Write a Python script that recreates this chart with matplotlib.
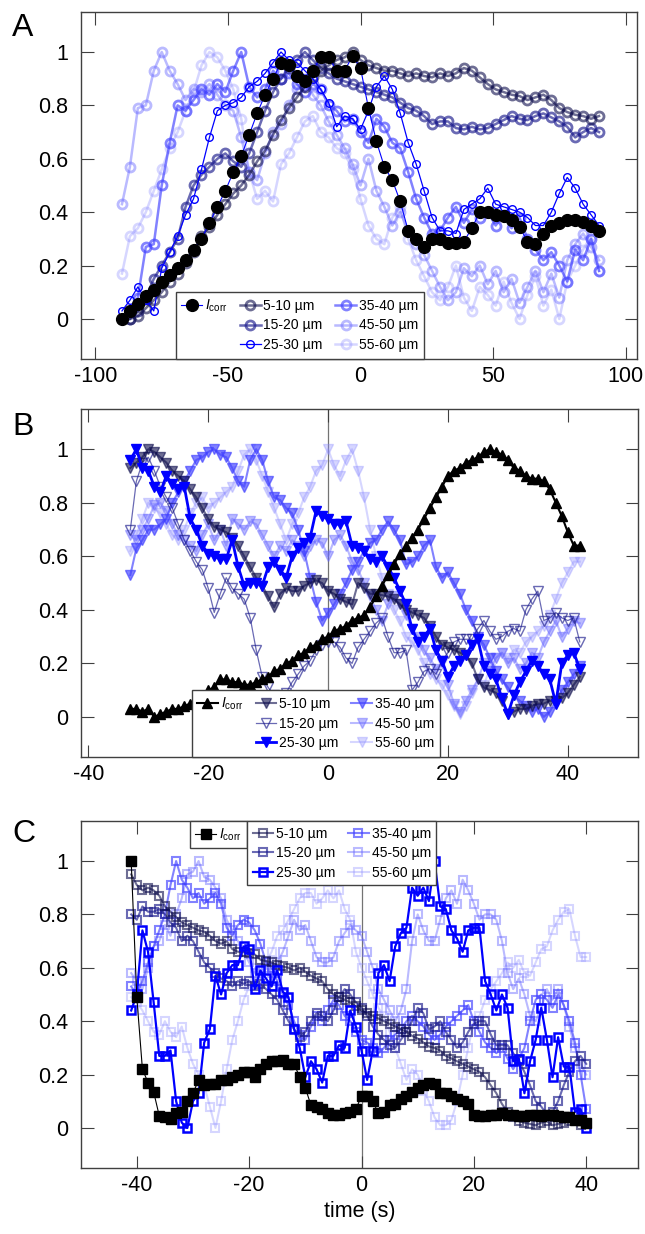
import numpy as np
import matplotlib
matplotlib.use("Agg")
import matplotlib.pyplot as plt
from matplotlib.lines import Line2D

plt.rcParams['font.family'] = ['Liberation Sans', 'DejaVu Sans']
plt.rcParams['mathtext.fontset'] = 'custom'
plt.rcParams['mathtext.rm'] = 'Liberation Sans'
plt.rcParams['mathtext.it'] = 'Liberation Sans:italic'
plt.rcParams['axes.unicode_minus'] = False

nan = np.nan

# ==========================
# Panel A data (time step 3 s)
# ==========================
a_time = np.arange(-90, 91, 3)
a_icorr = [0.00, 0.03, 0.055, 0.085, 0.11, 0.14, 0.165, 0.19, 0.22, 0.26,
           0.30, 0.36, 0.42, 0.48, 0.55, 0.61, 0.69, 0.77, 0.84, 0.90,
           0.96, 0.95, 0.91, 0.89, 0.93, 0.98, 0.98, 0.93, 0.93, 0.985,
           0.94, 0.79, 0.665, 0.57, 0.52, 0.44, 0.33, 0.30, 0.27, 0.30,
           0.30, 0.285, 0.285, 0.29, 0.34, 0.40, 0.40, 0.39, 0.385, 0.37,
           0.345, 0.29, 0.28, 0.32, 0.35, 0.36, 0.37, 0.37, 0.365, 0.35,
           0.33]
a_5_10 = [nan, 0.0, 0.01, 0.04, 0.07, 0.10, 0.14, 0.17, 0.21, 0.25,
          0.31, 0.345, 0.39, 0.43, 0.47, 0.50, 0.54, 0.59, 0.63, 0.69,
          0.745, 0.79, 0.83, 0.87, 0.905, 0.93, 0.95, 0.97, 0.98, 1.0,
          0.97, 0.95, 0.94, 0.93, 0.93, 0.92, 0.91, 0.92, 0.91, 0.905,
          0.92, 0.91, 0.92, 0.94, 0.93, 0.905, 0.88, 0.86, 0.85, 0.84,
          0.835, 0.82, 0.83, 0.84, 0.82, 0.79, 0.775, 0.765, 0.76, 0.75,
          0.76]
a_15_20 = [nan, 0.0, 0.03, 0.08, 0.15, 0.20, 0.25, 0.30, 0.42, 0.50,
           0.54, 0.57, 0.60, 0.62, 0.59, 0.57, 0.62, 0.70, 0.78, 0.85,
           0.90, 0.94, 0.97, 1.0, 0.97, 0.94, 0.92, 0.90, 0.89, 0.88,
           0.87, 0.86, 0.85, 0.84, 0.83, 0.81, 0.79, 0.78, 0.76, 0.73,
           0.74, 0.74, 0.715, 0.71, 0.72, 0.71, 0.715, 0.73, 0.745, 0.76,
           0.75, 0.745, 0.76, 0.77, 0.755, 0.74, 0.72, 0.68, 0.70, 0.715,
           0.70]
a_25_30 = [0.03, 0.07, 0.12, 0.07, 0.03, 0.19, 0.25, 0.31, 0.39, 0.45,
           0.56, 0.68, 0.78, 0.80, 0.81, 0.83, 0.87, 0.89, 0.92, 0.96,
           1.0, 0.97, 0.96, 0.93, 0.90, 0.86, 0.81, 0.72, 0.76, 0.75,
           0.71, 0.78, 0.87, 0.91, 0.86, 0.77, 0.66, 0.58, 0.48, 0.38,
           0.33, 0.33, 0.32, 0.41, 0.43, 0.45, 0.49, 0.43, 0.42, 0.41,
           0.40, 0.38, 0.35, 0.35, 0.40, 0.47, 0.53, 0.49, 0.43, 0.39,
           0.35]
a_35_40 = [nan, 0.03, 0.08, 0.27, 0.28, 0.50, 0.66, 0.80, 0.78, 0.82,
           0.86, 0.84, 0.88, 0.85, 0.93, 1.0, 0.87, 0.83, 0.86, 0.93,
           0.90, 0.92, 0.88, 0.85, 0.88, 0.86, 0.80, 0.78, 0.74, 0.75,
           0.70, 0.66, 0.75, 0.72, 0.66, 0.64, 0.55, 0.45, 0.38, 0.32,
           0.33, 0.38, 0.42, 0.36, 0.41, 0.38, 0.40, 0.35, 0.39, 0.34,
           0.38, 0.30, 0.26, 0.22, 0.25, 0.20, 0.14, 0.26, 0.22, 0.30,
           0.18]
a_45_50 = [0.43, 0.57, 0.79, 0.80, 0.93, 1.0, 0.93, 0.88, 0.82, 0.86,
           0.85, 0.88, 0.84, 0.80, 0.78, 0.68, 0.55, 0.52, 0.62, 0.70,
           0.73, 0.80, 0.86, 0.90, 0.84, 0.80, 0.74, 0.69, 0.64, 0.58,
           0.50, 0.60, 0.48, 0.42, 0.35, 0.40, 0.33, 0.28, 0.24, 0.18,
           0.12, 0.07, 0.10, 0.19, 0.16, 0.20, 0.13, 0.18, 0.10, 0.15,
           0.06, 0.12, 0.18, 0.10, 0.17, 0.08, 0.22, 0.28, 0.32, 0.27,
           0.22]
a_55_60 = [0.17, 0.31, 0.34, 0.40, 0.48, 0.56, 0.64, 0.70, 0.78, 0.85,
           0.95, 1.0, 0.98, 0.93, 0.86, 0.75, 0.55, 0.45, 0.48, 0.44,
           0.58, 0.62, 0.68, 0.74, 0.76, 0.70, 0.68, 0.64, 0.62, 0.56,
           0.45, 0.35, 0.30, 0.28, 0.38, 0.42, 0.30, 0.22, 0.16, 0.10,
           0.07, 0.12, 0.20, 0.08, 0.03, 0.12, 0.09, 0.05, 0.14, 0.06,
           0.0, 0.09, 0.16, 0.05, 0.11, 0.0, 0.14, 0.20, 0.26, 0.31,
           0.18]

# ==========================
# Panel B data (time step 1 s)
# ==========================
b_time = np.arange(-33, 43, 1)
b_icorr = [0.03, 0.03, 0.02, 0.03, 0.0, 0.01, 0.02, 0.03, 0.03, 0.04,
           0.05, 0.06, 0.08, 0.10, 0.11, 0.14, 0.14, 0.13, 0.13, 0.12,
           0.12, 0.13, 0.14, 0.15, 0.17, 0.18, 0.20, 0.21, 0.23, 0.24,
           0.26, 0.27, 0.29, 0.30, 0.32, 0.33, 0.34, 0.36, 0.37, 0.38,
           0.41, 0.45, 0.49, 0.53, 0.57, 0.61, 0.64, 0.67, 0.70, 0.74,
           0.78, 0.82, 0.86, 0.90, 0.92, 0.93, 0.95, 0.96, 0.97, 0.99,
           1.0, 0.99, 0.98, 0.96, 0.93, 0.92, 0.90, 0.89, 0.89, 0.88,
           0.85, 0.80, 0.75, 0.69, 0.64, 0.64]
b_5_10 = [0.93, 0.95, 0.97, 1.0, 0.99, 0.97, 0.95, 0.92, 0.90, 0.88,
          0.85, 0.82, 0.78, 0.74, 0.71, 0.70, 0.69, 0.67, 0.64, 0.60,
          0.56, 0.52, 0.49, 0.45, 0.41, 0.46, 0.48, 0.47, 0.47, 0.49,
          0.50, 0.51, 0.50, 0.47, 0.46, 0.44, 0.43, 0.42, 0.50, 0.48,
          0.46, 0.46, 0.455, 0.45, 0.44, 0.42, 0.40, 0.39, 0.38, 0.37,
          0.34, 0.30, 0.27, 0.26, 0.25, 0.24, 0.23, 0.20, 0.14, 0.11,
          0.10, 0.09, 0.06, 0.01, 0.02, 0.03, 0.03, 0.04, 0.05, 0.05,
          0.06, 0.06, 0.07, 0.09, 0.12, 0.15]
b_15_20 = [0.70, 0.88, 0.95, 0.97, 0.92, 0.86, 0.82, 0.78, 0.72, 0.66,
           0.62, 0.58, 0.55, 0.48, 0.39, 0.46, 0.52, 0.48, 0.46, 0.44,
           0.37, 0.25, 0.15, 0.11, 0.08, 0.07, 0.09, 0.13, 0.16, 0.19,
           0.21, 0.25, 0.27, 0.28, 0.28, 0.26, 0.22, 0.20, 0.26, 0.29,
           0.32, 0.35, 0.37, 0.30, 0.24, 0.24, 0.25, 0.10, 0.13, 0.17,
           0.18, 0.16, 0.21, 0.24, 0.28, 0.29, 0.29, 0.29, 0.33, 0.36,
           0.32, 0.29, 0.30, 0.32, 0.33, 0.32, 0.40, 0.44, 0.47, 0.36,
           0.37, 0.39, 0.37, 0.36, 0.37, 0.28]
b_25_30 = [0.96, 1.0, 0.93, 0.92, 0.86, 0.84, 0.90, 0.87, 0.85, 0.86,
           0.74, 0.70, 0.64, 0.61, 0.60, 0.59, 0.59, 0.66, 0.56, 0.49,
           0.50, 0.50, 0.49, 0.56, 0.58, 0.55, 0.52, 0.60, 0.63, 0.65,
           0.67, 0.77, 0.75, 0.74, 0.72, 0.72, 0.73, 0.64, 0.63, 0.62,
           0.59, 0.58, 0.60, 0.56, 0.52, 0.47, 0.42, 0.33, 0.28, 0.30,
           0.33, 0.25, 0.21, 0.15, 0.19, 0.21, 0.23, 0.27, 0.29, 0.19,
           0.16, 0.14, 0.07, 0.01, 0.08, 0.13, 0.17, 0.21, 0.19, 0.16,
           0.14, 0.05, 0.20, 0.23, 0.24, 0.18]
b_35_40 = [0.53, 0.63, 0.66, 0.70, 0.70, 0.72, 0.74, 0.80, 0.84, 0.88,
           0.92, 0.96, 0.97, 0.99, 1.0, 0.98, 0.97, 0.93, 0.88, 0.86,
           0.96, 1.0, 0.96, 0.88, 0.82, 0.81, 0.78, 0.76, 0.70, 0.62,
           0.52, 0.43, 0.36, 0.39, 0.42, 0.46, 0.50, 0.55, 0.58, 0.62,
           0.65, 0.66, 0.70, 0.73, 0.70, 0.66, 0.57, 0.58, 0.60, 0.64,
           0.66, 0.56, 0.52, 0.54, 0.50, 0.46, 0.40, 0.36, 0.30, 0.27,
           0.22, 0.17, 0.14, 0.11, 0.08, 0.06, 0.04, 0.02, 0.03, 0.0,
           0.02, 0.06, 0.10, 0.13, 0.16, 0.19]
b_45_50 = [0.68, 0.66, 0.70, 0.74, 0.79, 0.80, 0.77, 0.72, 0.68, 0.66,
           0.64, 0.62, 0.68, 0.72, 0.66, 0.70, 0.64, 0.74, 0.72, 0.70,
           0.73, 0.72, 0.68, 0.64, 0.60, 0.64, 0.62, 0.66, 0.64, 0.60,
           0.64, 0.66, 0.65, 0.60, 0.66, 0.68, 0.64, 0.58, 0.55, 0.50,
           0.45, 0.40, 0.36, 0.42, 0.45, 0.42, 0.38, 0.33, 0.30, 0.25,
           0.22, 0.18, 0.20, 0.12, 0.05, 0.02, 0.06, 0.10, 0.14, 0.20,
           0.17, 0.22, 0.24, 0.20, 0.22, 0.18, 0.20, 0.24, 0.22, 0.28,
           0.32, 0.36, 0.30, 0.33, 0.36, 0.35]
b_55_60 = [0.62, 0.68, 0.74, 0.80, 0.78, 0.76, 0.72, 0.68, 0.66, 0.70,
           0.76, 0.80, 0.82, 0.78, 0.80, 0.82, 0.84, 0.86, 0.92, 0.98,
           1.0, 0.96, 0.90, 0.84, 0.78, 0.72, 0.66, 0.72, 0.76, 0.82,
           0.86, 0.92, 0.94, 1.0, 0.94, 0.90, 0.96, 1.0, 0.92, 0.82,
           0.70, 0.60, 0.52, 0.46, 0.40, 0.36, 0.30, 0.28, 0.25, 0.20,
           0.16, 0.14, 0.12, 0.08, 0.04, 0.01, 0.04, 0.09, 0.14, 0.12,
           0.18, 0.22, 0.24, 0.22, 0.25, 0.24, 0.28, 0.30, 0.32, 0.34,
           0.38, 0.44, 0.50, 0.54, 0.58, 0.58]

# ==========================
# Panel C data (time step 1 s)
# ==========================
c_time = np.arange(-41, 41, 1)
c_icorr = [1.0, 0.49, 0.22, 0.17, 0.135, 0.045, 0.04, 0.035, 0.055, 0.06,
           0.10, 0.13, 0.18, 0.16, 0.165, 0.165, 0.18, 0.18, 0.19, 0.20,
           0.21, 0.21, 0.19, 0.22, 0.24, 0.25, 0.25, 0.255, 0.24, 0.24,
           0.19, 0.15, 0.085, 0.08, 0.07, 0.055, 0.05, 0.05, 0.055, 0.06,
           0.07, 0.12, 0.12, 0.10, 0.055, 0.06, 0.085, 0.09, 0.11, 0.12,
           0.135, 0.15, 0.16, 0.17, 0.165, 0.13, 0.13, 0.12, 0.11, 0.10,
           0.09, 0.05, 0.045, 0.045, 0.05, 0.05, 0.055, 0.05, 0.05, 0.045,
           0.045, 0.05, 0.05, 0.045, 0.05, 0.05, 0.045, 0.04, 0.04, 0.03,
           0.03, 0.02]
c_5_10 = [0.95, 0.91, 0.89, 0.90, 0.89, 0.87, 0.83, 0.81, 0.79, 0.77,
          0.76, 0.75, 0.74, 0.735, 0.72, 0.70, 0.69, 0.70, 0.67, 0.66,
          0.66, 0.655, 0.65, 0.63, 0.625, 0.62, 0.61, 0.605, 0.60, 0.59,
          0.60, 0.585, 0.57, 0.56, 0.55, 0.52, 0.50, 0.49, 0.48, 0.47,
          0.455, 0.44, 0.43, 0.42, 0.41, 0.40, 0.39, 0.38, 0.37, 0.36,
          0.345, 0.335, 0.32, 0.305, 0.30, 0.29, 0.27, 0.26, 0.25, 0.24,
          0.23, 0.22, 0.21, 0.19, 0.16, 0.13, 0.09, 0.06, 0.04, 0.025,
          0.02, 0.015, 0.01, 0.02, 0.025, 0.01, 0.015, 0.02, 0.025, 0.03,
          0.01, 0.02]
c_15_20 = [0.80, 0.78, 0.83, 0.81, 0.81, 0.82, 0.80, 0.77, 0.75, 0.70,
           0.72, 0.70, 0.66, 0.62, 0.60, 0.58, 0.56, 0.55, 0.53, 0.55,
           0.54, 0.55, 0.53, 0.54, 0.52, 0.50, 0.48, 0.44, 0.40, 0.37,
           0.34, 0.36, 0.40, 0.43, 0.42, 0.40, 0.44, 0.49, 0.52, 0.50,
           0.47, 0.45, 0.42, 0.38, 0.35, 0.33, 0.31, 0.30, 0.33, 0.36,
           0.40, 0.45, 0.43, 0.37, 0.38, 0.40, 0.36, 0.33, 0.30, 0.32,
           0.36, 0.39, 0.40, 0.40, 0.35, 0.31, 0.31, 0.31, 0.28, 0.25,
           0.21, 0.16, 0.10, 0.08, 0.05, 0.06, 0.10, 0.16, 0.21, 0.25,
           0.27, 0.24]
c_25_30 = [0.44, 0.50, 0.74, 0.66, 0.47, 0.27, 0.27, 0.29, 0.10, 0.02,
           0.0, 0.10, 0.13, 0.32, 0.37, 0.57, 0.50, 0.58, 0.61, 0.61,
           0.68, 0.67, 0.52, 0.59, 0.56, 0.53, 0.59, 0.51, 0.49, 0.37,
           0.30, 0.19, 0.25, 0.22, 0.17, 0.27, 0.27, 0.31, 0.30, 0.44,
           0.38, 0.29, 0.18, 0.29, 0.58, 0.61, 0.55, 0.68, 0.73, 0.75,
           0.90, 0.87, 0.90, 0.85, 1.0, 0.83, 0.82, 0.74, 0.71, 0.66,
           0.74, 0.75, 0.75, 0.55, 0.50, 0.44, 0.50, 0.45, 0.25, 0.26,
           0.13, 0.25, 0.33, 0.45, 0.33, 0.19, 0.34, 0.23, 0.23, 0.06,
           0.07, 0.0]
c_35_40 = [0.53, 0.50, 0.55, 0.62, 0.68, 0.74, 0.80, 0.91, 1.0, 0.93,
           0.90, 0.86, 0.88, 0.84, 0.86, 0.88, 0.84, 0.75, 0.72, 0.76,
           0.78, 0.77, 0.74, 0.69, 0.62, 0.60, 0.55, 0.50, 0.46, 0.40,
           0.35, 0.33, 0.38, 0.42, 0.40, 0.44, 0.48, 0.46, 0.42, 0.40,
           0.36, 0.33, 0.32, 0.30, 0.28, 0.30, 0.33, 0.35, 0.37, 0.40,
           0.42, 0.40, 0.38, 0.35, 0.33, 0.35, 0.38, 0.40, 0.42, 0.44,
           0.46, 0.40, 0.36, 0.32, 0.30, 0.28, 0.30, 0.26, 0.22, 0.26,
           0.30, 0.40, 0.48, 0.50, 0.48, 0.45, 0.50, 0.46, 0.40, 0.32,
           0.20, 0.07]
c_45_50 = [0.58, 0.55, 0.52, 0.60, 0.68, 0.70, 0.76, 0.72, 0.80, 0.86,
           0.95, 0.96, 1.0, 0.94, 0.93, 0.90, 0.86, 0.78, 0.74, 0.70,
           0.66, 0.62, 0.58, 0.56, 0.60, 0.58, 0.62, 0.66, 0.72, 0.78,
           0.74, 0.76, 0.70, 0.64, 0.62, 0.62, 0.64, 0.70, 0.73, 0.76,
           0.74, 0.72, 0.66, 0.60, 0.52, 0.48, 0.44, 0.40, 0.44, 0.52,
           0.70, 0.80, 0.74, 0.70, 0.70, 0.78, 0.86, 0.89, 0.84, 0.93,
           0.89, 0.84, 0.78, 0.80, 0.80, 0.78, 0.70, 0.58, 0.52, 0.56,
           0.50, 0.42, 0.40, 0.45, 0.52, 0.48, 0.52, 0.46, 0.38, 0.30,
           0.24, 0.20]
c_55_60 = [0.49, 0.47, 0.44, 0.40, 0.36, 0.35, 0.40, 0.36, 0.34, 0.38,
           0.30, 0.24, 0.20, 0.16, 0.08, 0.0, 0.10, 0.22, 0.33, 0.40,
           0.48, 0.53, 0.60, 0.58, 0.62, 0.66, 0.72, 0.74, 0.78, 0.82,
           0.86, 0.88, 0.88, 0.84, 0.86, 0.89, 0.86, 0.89, 0.82, 0.78,
           0.66, 0.60, 0.55, 0.50, 0.45, 0.42, 0.36, 0.30, 0.24, 0.18,
           0.22, 0.20, 0.14, 0.10, 0.04, 0.01, 0.01, 0.03, 0.10, 0.20,
           0.30, 0.40, 0.42, 0.48, 0.52, 0.55, 0.58, 0.62, 0.60, 0.63,
           0.58, 0.57, 0.62, 0.67, 0.68, 0.74, 0.78, 0.81, 0.82, 0.72,
           0.64, 0.64]

ring_labels = ['5-10 µm', '15-20 µm', '25-30 µm', '35-40 µm', '45-50 µm', '55-60 µm']
ring_colors = [(0.05, 0.05, 0.30), (0.10, 0.10, 0.55), (0.0, 0.0, 1.0),
               (0.25, 0.25, 1.0), (0.40, 0.40, 1.0), (0.55, 0.55, 1.0)]
ring_alpha = [0.6, 0.65, 1.0, 0.65, 0.45, 0.35]
icorr_label = r'$I_{\rm corr}$'

edge = '#404040'


def style_axes(ax, xlim, xticks):
    ax.set_xlim(*xlim)
    ax.set_ylim(-0.15, 1.15)
    ax.set_xticks(xticks)
    ax.set_xticklabels([str(v) for v in xticks])
    ax.set_yticks([0, 0.2, 0.4, 0.6, 0.8, 1.0])
    ax.set_yticklabels(['0', '0.2', '0.4', '0.6', '0.8', '1'])
    ax.tick_params(direction='in', length=9, width=0.8, color=edge,
                   top=True, right=True, labelsize=15.5)
    ax.tick_params(axis='y', pad=9)
    ax.tick_params(axis='x', pad=5)
    for s in ax.spines.values():
        s.set_color(edge)
        s.set_linewidth(1.0)


def style_legend(leg):
    fr = leg.get_frame()
    fr.set_edgecolor(edge)
    fr.set_linewidth(1.0)
    fr.set_facecolor('white')
    fr.set_alpha(1)


legend_kw = dict(fontsize=10, fancybox=False, framealpha=1, handlelength=1.5,
                 handletextpad=0.2, columnspacing=0.9, labelspacing=0.4,
                 borderpad=0.4, borderaxespad=0)

fig = plt.figure(figsize=(6.45, 12.34), dpi=100)
ax_a = fig.add_axes([0.125, 0.7091, 0.8625, 0.2812])
ax_b = fig.add_axes([0.125, 0.3865, 0.864, 0.2820])
ax_c = fig.add_axes([0.125, 0.0535, 0.864, 0.2812])

# ==========================
# Panel A
# ==========================
a_series = [a_5_10, a_15_20, a_25_30, a_35_40, a_45_50, a_55_60]
a_lines = [None] * 6
for i in [5, 4, 3, 1, 0, 2]:
    if i == 2:
        ln, = ax_a.plot(a_time, a_series[i], color=ring_colors[i], marker='o', ms=5.5,
                        mfc='none', mew=1.0, lw=0.9, alpha=ring_alpha[i],
                        label=ring_labels[i])
    else:
        ln, = ax_a.plot(a_time, a_series[i], color=ring_colors[i], marker='o', ms=6.5,
                        mfc='none', mew=2.0, lw=1.8, alpha=ring_alpha[i],
                        label=ring_labels[i])
    a_lines[i] = ln
a_ic, = ax_a.plot(a_time, a_icorr, color='blue', lw=0.8, marker='o', ms=8.5,
                  mfc='black', mec='black', label=icorr_label, zorder=5)
style_axes(ax_a, (-105.6, 104.3), [-100, -50, 0, 50, 100])

blank = Line2D([], [], linestyle='none', marker='none')
leg_a = ax_a.legend([a_ic, blank, blank] + a_lines,
                    [icorr_label, '', ''] + ring_labels,
                    ncol=3, loc='lower left', bbox_to_anchor=(0.171, 0.0), **legend_kw)
style_legend(leg_a)
leg_a.set_zorder(10)

# ==========================
# Panel B
# ==========================
ax_b.axvline(0, color='0.45', lw=0.9, zorder=0.5)
b_series = [b_5_10, b_15_20, b_25_30, b_35_40, b_45_50, b_55_60]
b_lines = [None] * 6
for i in [5, 4, 3, 1, 0, 2]:
    if i == 1:
        ln, = ax_b.plot(b_time, b_series[i], color=ring_colors[i], marker='v', ms=6.5,
                        mfc='none', mew=1.0, lw=0.9, alpha=ring_alpha[i],
                        label=ring_labels[i])
    else:
        ln, = ax_b.plot(b_time, b_series[i], color=ring_colors[i], marker='v', ms=7,
                        lw=2.0 if i == 2 else 1.5, alpha=ring_alpha[i],
                        label=ring_labels[i])
    b_lines[i] = ln
b_ic, = ax_b.plot(b_time, b_icorr, color='black', lw=1.5, marker='^', ms=7.5,
                  label=icorr_label, zorder=5)
style_axes(ax_b, (-41.3, 51.7), [-40, -20, 0, 20, 40])

leg_b = ax_b.legend([b_ic, blank, blank] + b_lines,
                    [icorr_label, '', ''] + ring_labels,
                    ncol=3, loc='lower left', bbox_to_anchor=(0.199, 0.0), **legend_kw)
style_legend(leg_b)
leg_b.set_zorder(10)

# ==========================
# Panel C
# ==========================
ax_c.axvline(0, color='0.45', lw=0.9, zorder=0.5)
c_series = [c_5_10, c_15_20, c_25_30, c_35_40, c_45_50, c_55_60]
c_lines = [None] * 6
for i in [5, 4, 3, 1, 0, 2]:
    ln, = ax_c.plot(c_time, c_series[i], color=ring_colors[i], marker='s', ms=5.5,
                    mfc='none', mew=1.8 if i == 2 else 1.5,
                    lw=1.6 if i == 2 else 1.5, alpha=ring_alpha[i],
                    label=ring_labels[i])
    c_lines[i] = ln
c_ic, = ax_c.plot(c_time, c_icorr, color='black', lw=0.8, marker='s', ms=6.5,
                  label=icorr_label, zorder=5)
style_axes(ax_c, (-50, 49.2), [-40, -20, 0, 20, 40])
ax_c.set_xlabel('time (s)', fontsize=15.5, labelpad=4)

leg_c1 = ax_c.legend([c_ic], [icorr_label], loc='upper left',
                     bbox_to_anchor=(0.196, 1.0), **legend_kw)
style_legend(leg_c1)
ax_c.add_artist(leg_c1)
fig.canvas.draw()
bb = leg_c1.get_window_extent()
x_right = ax_c.transAxes.inverted().transform((bb.x1, bb.y1))[0]
leg_c2 = ax_c.legend(c_lines, ring_labels, ncol=2, loc='upper left',
                     bbox_to_anchor=(x_right, 1.0), **legend_kw)
style_legend(leg_c2)
leg_c1.set_zorder(10)
leg_c2.set_zorder(10)

# Panel letters
fig.text(12 / 645, 1 - 36 / 1234, 'A', fontsize=23, va='baseline')
fig.text(12 / 645, 1 - 435 / 1234, 'B', fontsize=23, va='baseline')
fig.text(12 / 645, 1 - 842 / 1234, 'C', fontsize=23, va='baseline')

plt.savefig('out.png', dpi=100)
print("Saved out.png")
